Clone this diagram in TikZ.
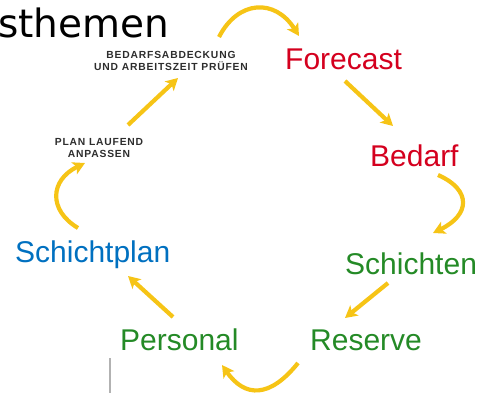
\documentclass[tikz,border=0pt]{standalone}
\usepackage{fontspec}
\usepackage{xcolor}
\setmainfont{Liberation Sans}
\newfontfamily\headfont{DejaVu Sans}
\newfontfamily\capsfont[LetterSpace=8]{Liberation Sans}
\usetikzlibrary{positioning,arrows.meta}
\definecolor{fcred}{RGB}{212,0,30}
\definecolor{planblue}{RGB}{0,112,192}
\definecolor{stepgreen}{RGB}{36,138,38}
\definecolor{loopyellow}{RGB}{246,196,22}
\definecolor{capsgray}{RGB}{45,45,45}
\begin{document}
\begin{tikzpicture}[x=1pt,y=-1pt,
  lbl/.style={anchor=base west,inner sep=0pt,font=\fontsize{30}{32}\selectfont},
  tag/.style={inner sep=0pt,align=center,text=capsgray,font=\capsfont\bfseries\fontsize{10.3}{12.8}\selectfont},
  cyc/.style={draw=loopyellow,line width=4.2pt,-{Stealth[length=12pt,width=13pt,inset=3pt]}}]
\useasboundingbox (0,0) rectangle (480,393);
\node[anchor=base west,inner sep=0pt,font=\headfont\fontsize{39}{40}\selectfont] (thema) at (-2,38) {sthemen};
\node[tag] (pruefen) at (171,61) {BEDARFSABDECKUNG\\UND ARBEITSZEIT PRÜFEN};
\node[tag] (anpassen) at (99,148) {PLAN LAUFEND\\ANPASSEN};
\node[lbl,text=fcred] (forecast) at (285,70) {Forecast};
\node[lbl,text=fcred] (bedarf) at (370,167) {Bedarf};
\node[lbl,text=planblue] (plan) at (15,262) {Schichtplan};
\node[lbl,text=stepgreen] (schichten) at (345,275) {Schichten};
\node[lbl,text=stepgreen] (personal) at (120,350) {Personal};
\node[lbl,text=stepgreen] (reserve) at (310,350) {Reserve};
\coordinate (pruefen-out) at (219,37);
\coordinate (forecast-in) at (299,36);
\coordinate (forecast-out) at (345,81);
\coordinate (bedarf-in) at (393,126);
\coordinate (bedarf-out) at (438,175);
\coordinate (schichten-in) at (433,233);
\coordinate (schichten-out) at (388,283);
\coordinate (reserve-in) at (345,318);
\coordinate (reserve-out) at (298,363);
\coordinate (personal-in) at (222,365);
\coordinate (personal-out) at (173,317);
\coordinate (plan-in) at (128,276);
\coordinate (plan-out) at (78,228);
\coordinate (anpassen-in) at (85,163);
\coordinate (anpassen-out) at (128,125);
\coordinate (pruefen-in) at (178,78);
\draw[cyc] (pruefen-out) .. controls (238,0) and (275,-2) .. (forecast-in);
\draw[cyc] (forecast-out) -- (bedarf-in);
\draw[cyc] (bedarf-out) .. controls (472,190) and (470,215) .. (schichten-in);
\draw[cyc] (schichten-out) -- (reserve-in);
\draw[cyc] (reserve-out) .. controls (270,398) and (245,398) .. (personal-in);
\draw[cyc] (personal-out) -- (plan-in);
\draw[cyc] (plan-out) .. controls (48,210) and (50,180) .. (anpassen-in);
\draw[cyc] (anpassen-out) -- (pruefen-in);
\draw[gray!60,line width=1.5pt] (110,358) -- (110,393);
\end{tikzpicture}
\end{document}
